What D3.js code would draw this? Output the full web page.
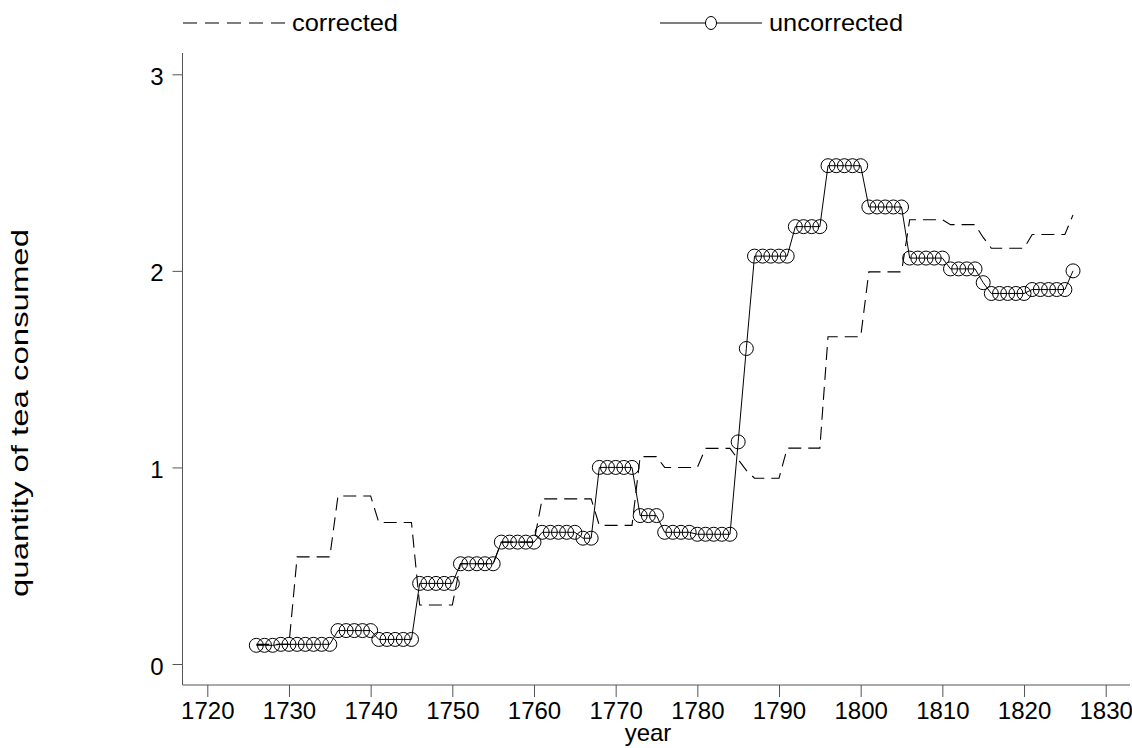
<!DOCTYPE html>
<html><head><meta charset="utf-8">
<script src="https://cdn.jsdelivr.net/npm/d3@7"></script>
<style>body{margin:0;background:#fff}svg{display:block}text{font-family:"Liberation Sans",Arial,sans-serif;fill:#000}</style>
</head><body>
<svg id="c" width="1132" height="748"></svg>
<script>
const years = [1726,1727,1728,1729,1730,1731,1732,1733,1734,1735,1736,1737,1738,1739,1740,1741,1742,1743,1744,1745,1746,1747,1748,1749,1750,1751,1752,1753,1754,1755,1756,1757,1758,1759,1760,1761,1762,1763,1764,1765,1766,1767,1768,1769,1770,1771,1772,1773,1774,1775,1776,1777,1778,1779,1780,1781,1782,1783,1784,1785,1786,1787,1788,1789,1790,1791,1792,1793,1794,1795,1796,1797,1798,1799,1800,1801,1802,1803,1804,1805,1806,1807,1808,1809,1810,1811,1812,1813,1814,1815,1816,1817,1818,1819,1820,1821,1822,1823,1824,1825,1826];
const uncorrected = [0.095,0.095,0.095,0.10,0.10,0.10,0.10,0.10,0.10,0.10,
 0.17,0.17,0.17,0.17,0.17,
 0.125,0.125,0.125,0.125,0.125,
 0.41,0.41,0.41,0.41,0.41,
 0.51,0.51,0.51,0.51,0.51,
 0.62,0.62,0.62,0.62,0.62,
 0.67,0.67,0.67,0.67,0.67,
 0.64,0.64,
 1.0,1.0,1.0,1.0,1.0,
 0.755,0.755,0.755,
 0.67,0.67,0.67,0.67,
 0.66,0.66,0.66,0.66,0.66,
 1.13,1.605,
 2.075,2.075,2.075,2.075,2.075,
 2.225,2.225,2.225,2.225,
 2.535,2.535,2.535,2.535,2.535,
 2.325,2.325,2.325,2.325,2.325,
 2.065,2.065,2.065,2.065,2.065,
 2.01,2.01,2.01,2.01,
 1.94,
 1.885,1.885,1.885,1.885,1.885,
 1.905,1.905,1.905,1.905,1.905,
 2.0];
const corrected = [0.10,0.10,0.10,0.10,0.10,
 0.545,0.545,0.545,0.545,0.545,
 0.855,0.855,0.855,0.855,0.855,
 0.72,0.72,0.72,0.72,0.72,
 0.30,0.30,0.30,0.30,0.30,
 0.51,0.51,0.51,0.51,0.51,
 0.62,0.62,0.62,0.62,0.62,
 0.84,0.84,0.84,0.84,0.84,0.84,0.84,
 0.705,0.705,0.705,0.705,0.705,
 1.055,1.055,1.055,
 1.0,1.0,1.0,1.0,1.0,
 1.097,1.097,1.097,1.097,
 1.04,0.985,
 0.945,0.945,0.945,0.945,
 1.098,1.098,1.098,1.098,1.098,
 1.665,1.665,1.665,1.665,1.665,
 1.995,1.995,1.995,1.995,1.995,
 2.26,2.26,2.26,2.26,2.26,
 2.235,2.235,2.235,2.235,
 2.17,
 2.115,2.115,2.115,2.115,2.115,
 2.185,2.185,2.185,2.185,2.185,
 2.285];
const xTicks = [1720,1730,1740,1750,1760,1770,1780,1790,1800,1810,1820,1830];
const yTicks = [0,1,2,3];
const seriesNames = ["corrected","uncorrected"];
const axisTitles = {x:"year", y:"quantity of tea consumed"};

const svg = d3.select("#c");
const x = d3.scaleLinear().domain([1720,1830]).range([207.3,1105.7]);
const y = d3.scaleLinear().domain([0,3]).range([664,74.3]);
const axisX0 = 182.5, axisX1 = 1130, axisY0 = 685, axisYTop = 53;
const axisColor = "#555";

// y axis
const gy = svg.append("g").attr("transform",`translate(${axisX0},0)`)
  .call(d3.axisLeft(y).tickValues(yTicks).tickFormat(d3.format("d")).tickSize(10).tickPadding(9));
gy.select(".domain").remove();
gy.selectAll(".tick line").attr("stroke",axisColor);
gy.selectAll(".tick text").attr("font-size",24).attr("font-family","Liberation Sans, Arial, sans-serif").attr("dy","0.42em");
svg.append("line").attr("x1",axisX0).attr("x2",axisX0).attr("y1",axisYTop).attr("y2",axisY0).attr("stroke",axisColor);

// x axis
const gx = svg.append("g").attr("transform",`translate(0,${axisY0})`)
  .call(d3.axisBottom(x).tickValues(xTicks).tickFormat(d3.format("d")).tickSize(12).tickPadding(5));
gx.select(".domain").remove();
gx.selectAll(".tick line").attr("stroke",axisColor);
gx.selectAll(".tick text").attr("font-size",24).attr("font-family","Liberation Sans, Arial, sans-serif");
svg.append("line").attr("x1",axisX0).attr("x2",axisX1).attr("y1",axisY0).attr("y2",axisY0).attr("stroke",axisColor);

// titles
svg.append("text").attr("x",648).attr("y",741).attr("text-anchor","middle").attr("font-size",24).text(axisTitles.x);
svg.append("text").attr("transform","translate(28,413) rotate(-90)").attr("text-anchor","middle").attr("font-size",24)
  .attr("textLength",368).attr("lengthAdjust","spacingAndGlyphs").text(axisTitles.y);

const data = years.map((yr,i)=>({yr, c:corrected[i], u:uncorrected[i]}));

// corrected dashed
svg.append("path").datum(data)
  .attr("d", d3.line().x(d=>x(d.yr)).y(d=>y(d.c)))
  .attr("fill","none").attr("stroke","#000").attr("stroke-width",1.1).attr("stroke-dasharray","13,7");

// uncorrected solid
svg.append("path").datum(data)
  .attr("d", d3.line().x(d=>x(d.yr)).y(d=>y(d.u)))
  .attr("fill","none").attr("stroke","#000").attr("stroke-width",1);
svg.append("g").selectAll("circle").data(data).join("circle")
  .attr("cx",d=>x(d.yr)).attr("cy",d=>y(d.u)).attr("r",7)
  .attr("fill","none").attr("stroke","#000").attr("stroke-width",1);

// legend
const lg = svg.append("g");
lg.append("line").attr("x1",183).attr("x2",286).attr("y1",23).attr("y2",23)
  .attr("stroke","#000").attr("stroke-width",1.1).attr("stroke-dasharray","14,8");
lg.append("text").attr("x",292).attr("y",31).attr("font-size",24)
  .attr("textLength",106).attr("lengthAdjust","spacingAndGlyphs").text(seriesNames[0]);
lg.append("line").attr("x1",660).attr("x2",762).attr("y1",23).attr("y2",23).attr("stroke","#000");
lg.append("ellipse").attr("cx",711).attr("cy",23).attr("rx",5.5).attr("ry",6.5).attr("fill","#fff").attr("stroke","#000");
lg.append("text").attr("x",769).attr("y",31).attr("font-size",24)
  .attr("textLength",134).attr("lengthAdjust","spacingAndGlyphs").text(seriesNames[1]);
</script>
</body></html>
